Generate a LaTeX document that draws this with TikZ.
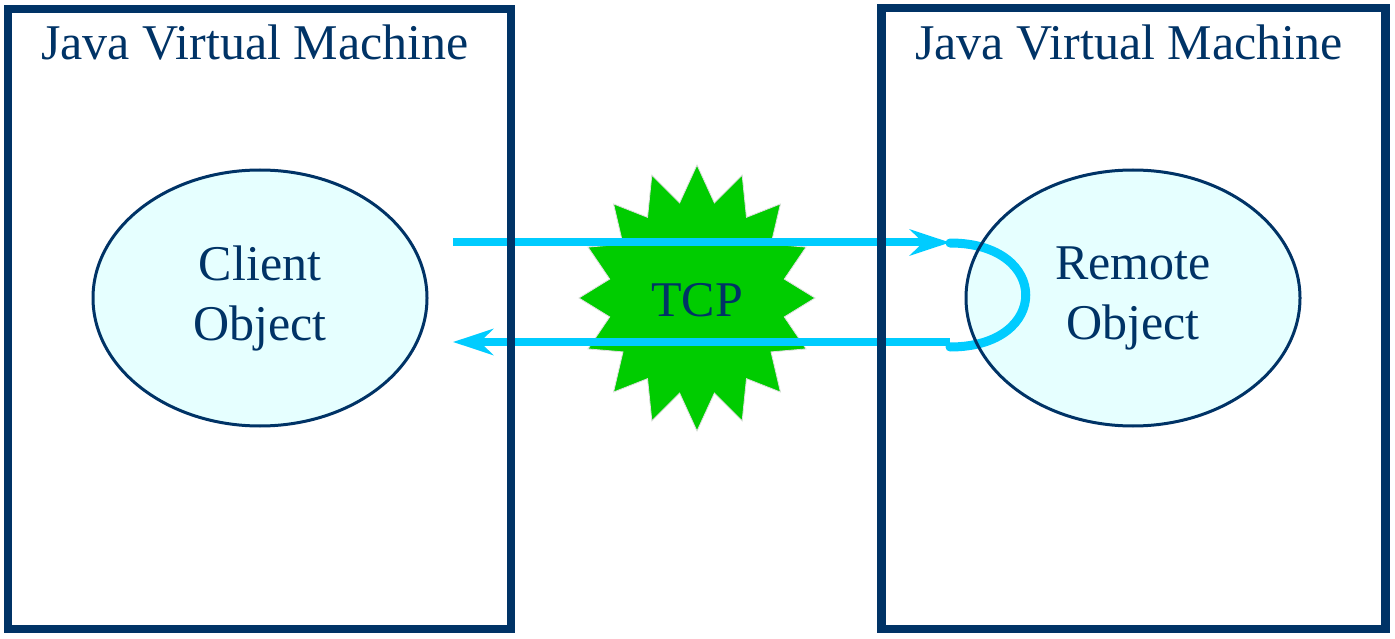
\documentclass[tikz,border=0pt]{standalone}
\usepackage{fontspec}
\setmainfont{Liberation Serif}
\usetikzlibrary{shapes.geometric,arrows.meta}
\definecolor{navy}{HTML}{003366}
\definecolor{aqua}{HTML}{00CCFF}
\definecolor{starg}{HTML}{00CC00}
\definecolor{pale}{HTML}{E6FFFF}
\tikzset{
  jvmbox/.style={draw=navy,line width=8.5pt,rectangle,inner sep=0pt},
  jvmtitle/.style={text=navy,font=\fontsize{50pt}{60pt}\selectfont,anchor=base,inner sep=0pt},
  objfill/.style={ellipse,fill=pale,minimum width=334pt,minimum height=256pt,inner sep=0pt,
     text=navy,align=center,font=\fontsize{50pt}{60pt}\selectfont},
  objline/.style={draw=navy,line width=3pt},
  msg/.style={draw=aqua,line width=8pt,-{Stealth[length=40pt,width=26pt,inset=13pt]}},
  loopline/.style={draw=aqua,line width=9pt,line cap=round},
  starshape/.style={fill=starg,draw=white!75!gray,line width=0.8pt},
  tcplabel/.style={text=navy,font=\fontsize{50pt}{60pt}\selectfont,inner sep=0pt}
}
\begin{document}
\begin{tikzpicture}[x=1pt,y=-1pt]
\useasboundingbox (0,0) rectangle (1395,639);
\fill[white] (0,0) rectangle (1395,639);
% object fills
\node[objfill] (client) at (260,298) {Client\\Object};
\node[objfill] (remote) at (1133,298) {Remote\\Object};
% star
\draw[starshape] plot[samples at={0,...,31}]
  ({697+(118-29*mod(\x,2))*cos(90+11.25*\x)},{298-(133-36*mod(\x,2))*sin(90+11.25*\x)}) -- cycle;
\node[tcplabel] (tcp) at (697,300) {TCP};
% messages
\coordinate (s1) at (453,242.5);
\coordinate (e1) at (950,242.5);
\coordinate (s2) at (950,342);
\coordinate (e2) at (453,342);
\coordinate (l1) at (950,243);
\coordinate (l2) at (950,347);
\draw[msg] (s1) -- (e1);
\draw[msg] (s2) -- (e2);
\draw[loopline] (l1) .. controls (1051,243) and (1051,347) .. (l2);
% outlines on top
\draw[objline] (client.center) ellipse [x radius=167, y radius=128];
\draw[objline] (remote.center) ellipse [x radius=167, y radius=128];
\node[jvmbox,minimum width=503pt,minimum height=620pt] (jvm1) at (259.5,319) {};
\node[jvmbox,minimum width=504pt,minimum height=621pt] (jvm2) at (1133.5,318.5) {};
\node[jvmtitle] (t1) at (255,60) {Java Virtual Machine};
\node[jvmtitle] (t2) at (1129,60) {Java Virtual Machine};
\end{tikzpicture}
\end{document}
